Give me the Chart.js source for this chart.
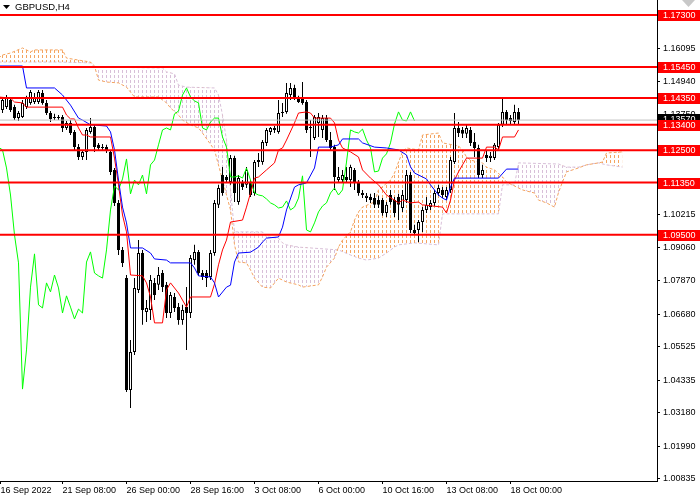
<!DOCTYPE html>
<html>
<head>
<meta charset="utf-8">
<title>GBPUSD,H4</title>
<script src="https://cdn.jsdelivr.net/npm/chart.js@4.4.1/dist/chart.umd.min.js"></script>
<style>
  html, body { margin: 0; padding: 0; background: #ffffff; }
  canvas { display: block; }
</style>
</head>
<body>
<canvas id="chart" width="700" height="500"></canvas>
<script>
// H4 candles, bar 0 = 16 Sep 2022 16:00
var opens = [
  1.1418,1.1393,1.1403,1.1428,1.1403,1.1364,1.1368,1.1403,1.1418,1.1421,
  1.1421,1.1453,1.1418,1.1382,1.1368,1.1368,1.1368,1.1329,1.1347,1.1315,
  1.1261,1.1226,1.1244,1.1315,1.1332,1.1269,1.1261,1.1261,1.1244,1.1180,
  1.1063,1.0896,1.0796,1.0399,1.0534,1.0754,1.0885,1.0676,1.0683,1.0779,
  1.0772,1.0814,1.0772,1.0672,1.0729,1.0693,1.0647,1.0693,1.0672,1.0860,
  1.0889,1.0814,1.0814,1.0800,1.0885,1.1056,1.1162,1.1155,1.1137,1.1222,
  1.1066,1.1134,1.1127,1.1134,1.1098,1.1208,1.1208,1.1276,1.1315,1.1329,
  1.1315,1.1382,1.1386,1.1446,1.1471,1.1435,1.1435,1.1421,1.1332,1.1293,
  1.1347,1.1322,1.1364,1.1286,1.1261,1.1144,1.1144,1.1155,1.1144,1.1180,
  1.1134,1.1098,1.1080,1.1084,1.1080,1.1073,1.1073,1.1027,1.1091,1.1073,
  1.1084,1.1045,1.1073,1.1162,1.0967,1.0967,1.0995,1.1038,1.1048,1.1063,
  1.1098,1.1109,1.1084,1.1109,1.1208,1.1329,1.1322,1.1308,1.1322,1.1279,
  1.1258,1.1162,1.1233,1.1222,1.1222,1.1261,1.1340,1.1386,1.1364,1.1350,
  1.1386
];
var highs = [
  1.1450,1.1439,1.1446,1.1435,1.1411,1.1389,1.1428,1.1443,1.1464,1.1453,
  1.1464,1.1464,1.1428,1.1389,1.1379,1.1375,1.1375,1.1354,1.1357,1.1322,
  1.1272,1.1251,1.1329,1.1364,1.1340,1.1276,1.1272,1.1269,1.1251,1.1187,
  1.1073,1.0906,1.0807,1.0576,1.0796,1.0931,1.0896,1.0718,1.0807,1.0796,
  1.0835,1.0825,1.0782,1.0747,1.0743,1.0708,1.0701,1.0764,1.0878,1.0914,
  1.0896,1.0825,1.0825,1.0896,1.1073,1.1127,1.1190,1.1162,1.1233,1.1230,
  1.1162,1.1144,1.1190,1.1144,1.1215,1.1240,1.1286,1.1329,1.1332,1.1336,
  1.1428,1.1418,1.1489,1.1489,1.1482,1.1443,1.1492,1.1428,1.1357,1.1375,
  1.1382,1.1375,1.1375,1.1315,1.1269,1.1190,1.1180,1.1190,1.1198,1.1187,
  1.1144,1.1109,1.1098,1.1095,1.1098,1.1088,1.1080,1.1066,1.1109,1.1084,
  1.1095,1.1109,1.1180,1.1173,1.0985,1.1002,1.1048,1.1084,1.1073,1.1109,
  1.1127,1.1119,1.1119,1.1226,1.1382,1.1350,1.1332,1.1340,1.1332,1.1311,
  1.1269,1.1198,1.1251,1.1244,1.1276,1.1347,1.1435,1.1393,1.1375,1.1411,
  1.1400
];
var lows = [
  1.1407,1.1382,1.1396,1.1386,1.1357,1.1354,1.1364,1.1396,1.1411,1.1414,
  1.1414,1.1411,1.1375,1.1350,1.1357,1.1357,1.1315,1.1322,1.1304,1.1251,
  1.1215,1.1215,1.1215,1.1308,1.1244,1.1251,1.1251,1.1240,1.1162,1.1052,
  1.0878,1.0835,1.0392,1.0335,1.0523,1.0743,1.0630,1.0640,1.0647,1.0718,
  1.0754,1.0747,1.0654,1.0654,1.0676,1.0630,1.0630,1.0541,1.0654,1.0843,
  1.0804,1.0789,1.0764,1.0789,1.0875,1.1045,1.1088,1.1134,1.1127,1.1066,
  1.1056,1.1109,1.1116,1.1084,1.1088,1.1190,1.1198,1.1265,1.1304,1.1311,
  1.1308,1.1368,1.1379,1.1428,1.1428,1.1418,1.1411,1.1311,1.1226,1.1286,
  1.1297,1.1293,1.1279,1.1251,1.1109,1.1134,1.1137,1.1137,1.1119,1.1109,
  1.1088,1.1080,1.1066,1.1063,1.1045,1.1045,1.1017,1.1013,1.1056,1.1013,
  1.1002,1.1031,1.1063,1.0956,1.0949,1.0924,1.0960,1.1027,1.1038,1.1052,
  1.1088,1.1080,1.1073,1.1098,1.1201,1.1297,1.1293,1.1293,1.1265,1.1226,
  1.1151,1.1151,1.1208,1.1208,1.1215,1.1254,1.1332,1.1340,1.1343,1.1343,
  1.1340
];
var closes = [
  1.1439,1.1428,1.1435,1.1393,1.1364,1.1382,1.1418,1.1435,1.1457,1.1435,
  1.1457,1.1418,1.1382,1.1361,1.1364,1.1364,1.1329,1.1347,1.1311,1.1261,
  1.1226,1.1244,1.1322,1.1332,1.1261,1.1258,1.1258,1.1251,1.1173,1.1063,
  1.0896,1.0850,1.0399,1.0534,1.0761,1.0885,1.0683,1.0690,1.0789,1.0736,
  1.0807,1.0764,1.0672,1.0736,1.0690,1.0647,1.0683,1.0672,1.0867,1.0889,
  1.0814,1.0800,1.0796,1.0885,1.1063,1.1116,1.1098,1.1144,1.1222,1.1098,
  1.1151,1.1119,1.1180,1.1091,1.1208,1.1215,1.1279,1.1322,1.1329,1.1322,
  1.1382,1.1386,1.1453,1.1471,1.1435,1.1421,1.1418,1.1322,1.1329,1.1368,
  1.1368,1.1364,1.1286,1.1258,1.1155,1.1155,1.1162,1.1144,1.1190,1.1134,
  1.1098,1.1091,1.1088,1.1073,1.1056,1.1056,1.1027,1.1056,1.1066,1.1027,
  1.1056,1.1091,1.1162,1.0967,1.0956,1.0995,1.1038,1.1056,1.1063,1.1098,
  1.1116,1.1091,1.1109,1.1215,1.1329,1.1311,1.1308,1.1329,1.1276,1.1258,
  1.1162,1.1180,1.1222,1.1230,1.1269,1.1340,1.1386,1.1357,1.1354,1.1386,
  1.1357
];

// Ichimoku lines at the bars where they turn
var tenkanBars = [0,3,4,6,7,16,17,18,19,20,21,22,23,28,29,30,31,32,33,36,37,38,39,41,42,43,45,47,48,53,54,55,56,57,58,61,62,63,64,65,67,69,70,71,72,74,75,77,78,79,83,84,85,86,88,90,91,93,95,97,100,101,103,105,106,111,112,113,114,115,116,117,121,122,124,125,126,129,130];
var tenkanVals = [1.1439,1.1435,1.1421,1.1418,1.1403,1.1403,1.1375,1.1361,1.1361,1.1329,1.1304,1.1304,1.1297,1.1297,1.1222,1.1127,1.1020,1.0960,1.0807,1.0804,1.0779,1.0729,1.0637,1.0637,1.0754,1.0779,1.0743,1.0693,1.0729,1.0729,1.0775,1.0843,1.0896,1.0931,1.0995,1.1002,1.1048,1.1098,1.1151,1.1155,1.1180,1.1205,1.1251,1.1258,1.1286,1.1347,1.1382,1.1386,1.1382,1.1364,1.1364,1.1347,1.1286,1.1258,1.1244,1.1226,1.1180,1.1151,1.1127,1.1091,1.1063,1.1073,1.1063,1.1066,1.1056,1.1048,1.1027,1.1073,1.1144,1.1173,1.1198,1.1222,1.1222,1.1261,1.1261,1.1251,1.1297,1.1297,1.1322];

var kijunBars = [0,6,7,14,16,18,20,21,23,27,28,29,30,31,32,33,36,38,39,42,43,48,49,50,53,54,55,57,58,59,60,63,65,66,67,70,71,72,74,75,77,79,80,83,85,86,90,91,94,97,100,102,103,104,106,107,108,110,111,112,113,114,125,127,130];
var kijunVals = [1.1549,1.1549,1.1471,1.1471,1.1446,1.1410,1.1364,1.1357,1.1340,1.1336,1.1315,1.1251,1.1144,1.1048,1.0992,1.0903,1.0903,1.0885,1.0864,1.0860,1.0850,1.0850,1.0832,1.0804,1.0800,1.0779,1.0729,1.0764,1.0771,1.0853,1.0885,1.0888,1.0906,1.0924,1.0938,1.0942,1.0977,1.1038,1.1119,1.1127,1.1134,1.1187,1.1261,1.1261,1.1269,1.1290,1.1290,1.1276,1.1261,1.1258,1.1251,1.1233,1.1191,1.1169,1.1155,1.1148,1.1127,1.1091,1.1080,1.1073,1.1119,1.1151,1.1151,1.1183,1.1183];

// Chikou span, one value per bar from bar 0
var chikouVals = [
  1.1261,1.1251,1.1187,1.1091,1.0949,1.0850,1.0402,1.0541,1.0764,1.0882,
  1.0701,1.0690,1.0779,1.0747,1.0807,1.0761,1.0672,1.0733,1.0693,1.0651,
  1.0686,1.0672,1.0853,1.0889,1.0814,1.0804,1.0796,1.0896,1.1038,1.1123,
  1.1109,1.1148,1.1219,1.1095,1.1144,1.1127,1.1162,1.1095,1.1198,1.1215,
  1.1269,1.1322,1.1329,1.1322,1.1379,1.1389,1.1446,1.1471,1.1439,1.1425,
  1.1418,1.1329,1.1322,1.1350,1.1364,1.1364,1.1297,1.1261,1.1155,1.1155,
  1.1159,1.1151,1.1187,1.1144,1.1098,1.1091,1.1088,1.1077,1.1063,1.1056,
  1.1045,1.1048,1.1070,1.1038,1.1048,1.1080,1.1159,1.0967,1.0960,1.0992,
  1.1031,1.1052,1.1063,1.1098,1.1116,1.1091,1.1109,1.1208,1.1322,1.1315,
  1.1311,1.1325,1.1286,1.1258,1.1173,1.1176,1.1222,1.1237,1.1276,1.1343,
  1.1386,1.1357,1.1354,1.1386,1.1354
];

var spanABars = [0,1,3,6,8,9,16,17,20,23,24,25,27,30,32,34,40,42,43,45,46,48,50,51,54,56,58,59,60,62,63,64,66,68,70,71,72,75,76,80,81,82,84,85,86,88,89,90,91,94,95,98,99,100,101,102,105,106,110,111,115,116,117,118,121,122,124,126,127,130,131,134,135,137,139,140,141,142,145,147,150,151,152,156];
var spanAVals = [1.1577,1.1588,1.1595,1.1613,1.1599,1.1606,1.1606,1.1577,1.1570,1.1563,1.1549,1.1499,1.1492,1.1489,1.1474,1.1439,1.1439,1.1418,1.1400,1.1375,1.1357,1.1340,1.1329,1.1311,1.1251,1.1144,1.1038,1.0914,1.0853,1.0850,1.0825,1.0796,1.0764,1.0761,1.0796,1.0789,1.0782,1.0772,1.0764,1.0772,1.0800,1.0835,1.0867,1.0906,1.0931,1.0960,1.1002,1.1031,1.1048,1.1066,1.1109,1.1144,1.1169,1.1208,1.1244,1.1258,1.1251,1.1304,1.1311,1.1276,1.1265,1.1251,1.1226,1.1215,1.1205,1.1190,1.1180,1.1155,1.1137,1.1116,1.1109,1.1098,1.1073,1.1063,1.1048,1.1100,1.1137,1.1173,1.1187,1.1198,1.1205,1.1208,1.1240,1.1244];

var spanBBars = [0,15,23,24,41,42,44,45,47,54,55,56,57,58,59,66,67,70,71,72,75,85,88,90,92,95,97,99,100,104,110,111,125,126,129,130,140,142,145,148,150,152,156];
var spanBVals = [1.1563,1.1563,1.1560,1.1545,1.1542,1.1528,1.1521,1.1481,1.1474,1.1471,1.1446,1.1375,1.1286,1.1109,1.0960,1.0960,1.0942,1.0938,1.0921,1.0914,1.0906,1.0896,1.0878,1.0867,1.0860,1.0867,1.0885,1.0906,1.0914,1.0921,1.0914,1.1024,1.1024,1.1127,1.1127,1.1205,1.1201,1.1190,1.1190,1.1201,1.1205,1.1198,1.1190];

// horizontal levels, price axis, time axis
var levels = [1.17300, 1.15450, 1.14350, 1.13400, 1.12500, 1.11350, 1.09500];
var bid = 1.13570;
var priceTicks = [1.16095, 1.14940, 1.13750, 1.10215, 1.09060, 1.07870, 1.06680, 1.05525, 1.04335, 1.03180, 1.01990, 1.00835];
var timeBars = [0.5, 16, 32, 48, 64, 80, 96, 112, 128];
var timeLabels = ['16 Sep 2022', '21 Sep 08:00', '26 Sep 00:00', '28 Sep 16:00', '3 Oct 08:00', '6 Oct 00:00', '10 Oct 16:00', '13 Oct 08:00', '18 Oct 00:00'];

var xMin = 0.375, xMax = 164.625;
var yMin = 1.00757, yMax = 1.178325;

var canvas = document.getElementById('chart');
var ctx0 = canvas.getContext('2d');

function hatch(color) {
  var c = document.createElement('canvas');
  c.width = 4;
  c.height = 5;
  var g = c.getContext('2d');
  g.fillStyle = color;
  g.fillRect(2, 0, 1, 3);
  return ctx0.createPattern(c, 'repeat');
}

function pts(xs, ys) {
  return xs.map(function (x, k) { return { x: x, y: ys[k] }; });
}

var barIdx = opens.map(function (o, i) { return i; });
var wickData = barIdx.map(function (i) { return { x: i, y: [lows[i], highs[i]] }; });
var bodyData = barIdx.map(function (i) { return { x: i, y: [opens[i], closes[i]] }; });
var bodyColors = barIdx.map(function (i) { return closes[i] >= opens[i] ? '#ffffff' : '#000000'; });

function flatLine(v, color, width, order) {
  return {
    type: 'line', data: [{ x: xMin, y: v }, { x: xMax, y: v }],
    borderColor: color, borderWidth: width, pointRadius: 0, order: order
  };
}

var datasets = [
  {
    type: 'line', label: 'Senkou A', data: pts(spanABars, spanAVals),
    borderColor: '#F4A460', borderWidth: 1, borderDash: [3, 2], pointRadius: 0,
    fill: { target: '+1', above: hatch('#F4A460'), below: hatch('#D8BFD8') }, order: 8
  },
  {
    type: 'line', label: 'Senkou B', data: pts(spanBBars, spanBVals),
    borderColor: '#D8BFD8', borderWidth: 1, borderDash: [3, 2], pointRadius: 0, order: 9
  },
  {
    type: 'bar', label: 'wicks', data: wickData, backgroundColor: '#000000',
    barThickness: 1, grouped: false, inflateAmount: 0, order: 6
  },
  {
    type: 'bar', label: 'bodies', data: bodyData, backgroundColor: bodyColors,
    borderColor: '#000000', borderWidth: 1, borderSkipped: false,
    barThickness: 3, grouped: false, inflateAmount: 0, order: 5
  },
  {
    type: 'line', label: 'Chikou', data: pts(barIdx.slice(0, chikouVals.length), chikouVals),
    borderColor: '#00FF00', borderWidth: 1, pointRadius: 0, order: 4
  },
  {
    type: 'line', label: 'Tenkan', data: pts(tenkanBars, tenkanVals),
    borderColor: '#FF0000', borderWidth: 1, pointRadius: 0, order: 3
  },
  {
    type: 'line', label: 'Kijun', data: pts(kijunBars, kijunVals),
    borderColor: '#0000FF', borderWidth: 1, pointRadius: 0, order: 2
  },
  flatLine(bid, '#C0C0C0', 1, 1)
];
levels.forEach(function (v) { datasets.push(flatLine(v, '#FF0000', 2, 0)); });

var overlay = {
  id: 'overlay',
  afterDraw: function (chart) {
    var ctx = chart.ctx, ys = chart.scales.y, area = chart.chartArea;
    ctx.save();
    ctx.font = '9px "Liberation Sans"';
    ctx.textBaseline = 'middle';
    ctx.textAlign = 'left';

    var by = Math.round(ys.getPixelForValue(bid));
    ctx.fillStyle = '#000000';
    ctx.fillRect(area.right + 1, by - 6, chart.width - area.right, 12);
    ctx.fillStyle = '#ffffff';
    ctx.fillText(bid.toFixed(5), area.right + 6, by);

    levels.forEach(function (v) {
      var py = Math.round(ys.getPixelForValue(v));
      ctx.fillStyle = '#FF0000';
      ctx.fillRect(area.right + 1, py - 5, chart.width - area.right, 11);
      ctx.fillStyle = '#ffffff';
      ctx.fillText(v.toFixed(5), area.right + 6, py + 0.5);
    });

    // symbol caption
    ctx.fillStyle = '#000000';
    ctx.beginPath();
    ctx.moveTo(3, 5); ctx.lineTo(10, 5); ctx.lineTo(6.5, 9); ctx.closePath();
    ctx.fill();
    ctx.font = '9.5px "Liberation Sans"';
    ctx.fillText('GBPUSD,H4', 15, 7);

    // chart shift marker
    ctx.fillStyle = '#C8C8C8';
    ctx.beginPath();
    ctx.moveTo(682, 0); ctx.lineTo(695, 0); ctx.lineTo(688.5, 7); ctx.closePath();
    ctx.fill();
    ctx.restore();
  }
};

Chart.defaults.font.family = '"Liberation Sans", sans-serif';
Chart.defaults.font.size = 9;
Chart.defaults.color = '#000000';

new Chart(canvas, {
  type: 'line',
  data: { datasets: datasets },
  options: {
    responsive: false,
    animation: false,
    devicePixelRatio: 1,
    events: [],
    layout: { padding: 0 },
    plugins: { legend: { display: false }, tooltip: { enabled: false } },
    elements: { line: { tension: 0 } },
    scales: {
      x: {
        type: 'linear', position: 'bottom', min: xMin, max: xMax, offset: false,
        afterBuildTicks: function (s) { s.ticks = timeBars.map(function (v) { return { value: v }; }); },
        afterFit: function (s) { s.height = 19; s.paddingLeft = 0; s.paddingRight = 0; },
        ticks: {
          autoSkip: false, maxRotation: 0, align: 'start', padding: 1,
          callback: function (v, i) { return timeLabels[i]; }
        },
        grid: { drawOnChartArea: false, tickLength: 3, color: '#000000', offset: false },
        border: { display: true, color: '#000000', width: 1 }
      },
      y: {
        type: 'linear', position: 'right', min: yMin, max: yMax,
        afterBuildTicks: function (s) { s.ticks = priceTicks.map(function (v) { return { value: v }; }); },
        afterFit: function (s) { s.width = 43; s.paddingTop = 0; s.paddingBottom = 0; },
        ticks: {
          autoSkip: false, padding: 3,
          callback: function (v) { return v.toFixed(5); }
        },
        grid: { drawOnChartArea: false, tickLength: 3, color: '#000000' },
        border: { display: true, color: '#000000', width: 1 }
      }
    }
  },
  plugins: [overlay]
});
</script>
</body>
</html>
